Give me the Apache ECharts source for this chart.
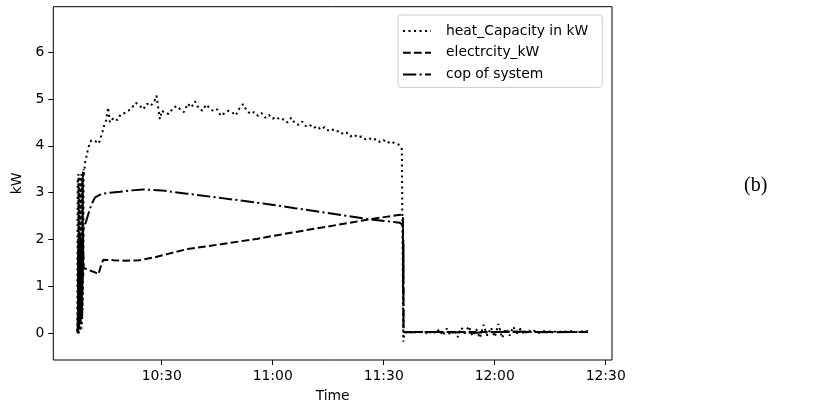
<!DOCTYPE html>
<html><head><meta charset="utf-8">
<script src="https://cdn.jsdelivr.net/npm/echarts@6/dist/echarts.min.js"></script>
<style>html,body{margin:0;padding:0;background:#fff}#c{width:830px;height:409px}</style>
</head><body><div id="c"></div><script>
// times are minutes after 10:00
const xTickMinutes = [30, 60, 90, 120, 150];
const yTicks = [0, 1, 2, 3, 4, 5, 6];
const seriesNames = ['heat_Capacity in kW', 'electrcity_kW', 'cop of system'];

const heatTimes = [7.2,7.3,7.4,7.5,7.6,7.7,7.8,7.9,8.0,8.1,8.2,8.3,8.4,8.5,8.6,8.7,8.8,8.9,9.0,9.3,9.6,10.0,10.5,11.0,11.5,12.0,12.5,13.0,13.5,14.0,14.5,15.0,15.5,16.0,
  17,18,19,20,21,22,23,24,25,26,27,28,28.6,29.5,30,31,32,33,34,35,36,37,38,39,40,41,42,43,44,45,46,47,48,49,50,51,52,53,54,55,56,57,58,59,60,
  61,62,63,64,65,66,67,68,69,70,71,72,73,74,75,76,77,78,79,80,81,82,83,84,85,86,87,88,89,90,91,92,93,94,94.9,95.3,95.6,
  96,97,98,99,100,101,102,103,104,105,106,107,108,109,110,111,112,113,114,115,116,117,118,119,120,121,122,123,124,125,126,127,128,129,130,
  131,132,133,134,135,136,137,138,139,140,141,142,143,144,145.2];
const heatValues = [0.05,3.3,0.1,3.4,0.0,3.2,0.2,3.35,0.05,3.1,0.3,3.4,0.1,3.3,0.5,3.45,1.2,3.5,3.4,3.65,3.75,3.9,4.05,4.12,4.14,4.1,4.12,4.05,4.02,4.3,4.45,4.55,4.82,4.5,
  4.6,4.55,4.68,4.7,4.75,4.82,4.92,4.86,4.78,4.9,4.85,4.95,5.07,4.57,4.75,4.7,4.68,4.8,4.85,4.78,4.72,4.9,4.82,4.95,4.8,4.75,4.88,4.8,4.74,4.78,4.64,4.7,4.75,4.72,4.65,4.8,4.89,4.75,4.68,4.72,4.64,4.7,4.6,4.66,4.58,
  4.62,4.55,4.57,4.5,4.6,4.48,4.45,4.52,4.42,4.45,4.38,4.42,4.35,4.4,4.33,4.36,4.3,4.32,4.25,4.28,4.2,4.24,4.18,4.2,4.14,4.17,4.12,4.15,4.08,4.12,4.06,4.1,4.05,4.03,3.93,-0.18,0.02,
  0.02,0.03,0.02,0.03,0.02,0.05,-0.03,0.06,0.0,0.08,-0.05,0.1,-0.04,0.07,-0.08,0.12,0.0,0.15,-0.06,0.09,-0.1,0.18,-0.05,0.12,-0.08,0.2,-0.1,0.1,-0.05,0.14,0.0,0.1,-0.03,0.08,0.02,
  0.06,0.01,0.05,0.03,0.04,0.03,0.05,0.03,0.04,0.03,0.05,0.03,0.04,0.04,0.05];

const elecTimes = [7.3,7.5,7.7,7.9,8.1,8.3,8.5,8.7,8.9,9.3,10,11,12,12.9,13.5,14.2,17,20,24,28,32,37,46,56,66,75,86,94.4,95.2,95.25,95.3,95.35,95.4,110,145.2];
const elecValues = [0.0,1.8,0.1,2.0,0.2,1.9,0.3,2.1,1.4,1.38,1.35,1.33,1.3,1.26,1.42,1.57,1.56,1.55,1.56,1.62,1.7,1.8,1.9,2.02,2.16,2.28,2.43,2.53,2.5,1.1,2.0,0.2,0.03,0.03,0.03];

const copTimes = [7.3,7.5,7.7,7.9,8.1,8.3,8.5,8.8,9.6,10.2,11.0,12.0,13.8,16,18.7,22,25,30,36.8,45.8,56.6,59.3,66,74.6,86.3,94.4,95.2,95.25,95.3,95.35,95.4,105,115,125,135,145.2];
const copValues = [0.0,2.0,0.2,2.1,0.4,2.0,0.8,2.2,2.4,2.55,2.75,2.9,2.98,3.0,3.02,3.05,3.07,3.05,2.98,2.89,2.78,2.75,2.67,2.57,2.43,2.36,2.3,0.8,1.9,0.1,0.02,0.03,0.01,0.04,0.02,0.03];

const zip = (t, v) => t.map((x, i) => [x, v[i]]);
const fmtTime = m => { const tot = 600 + Math.round(m); const h = Math.floor(tot / 60), mm = tot % 60; return h + ':' + (mm < 10 ? '0' : '') + mm; };
const FONT = 'DejaVu Sans';

const chart = echarts.init(document.getElementById('c'), null, {renderer: 'canvas'});
chart.setOption({
  animation: false,
  grid: {left: 53.3, top: 6.7, width: 558.7, height: 353.3, show: true, borderColor: '#000', borderWidth: 1, backgroundColor: 'transparent'},
  xAxis: {
    type: 'value', min: 0.7, max: 151.7,
    name: 'Time', nameLocation: 'middle', nameGap: 29,
    nameTextStyle: {fontFamily: FONT, fontSize: 13.9, color: '#000'},
    axisLine: {show: false, onZero: false},
    splitLine: {show: false},
    axisTick: {show: true, inside: false, length: 5, lineStyle: {color: '#000', width: 1}, customValues: xTickMinutes},
    axisLabel: {margin: 9, fontFamily: FONT, fontSize: 13.9, color: '#000', customValues: xTickMinutes, formatter: v => fmtTime(v)}
  },
  yAxis: {
    type: 'value', min: -0.57, max: 6.97,
    name: 'kW', nameLocation: 'middle', nameGap: 27, nameRotate: 90,
    nameTextStyle: {fontFamily: FONT, fontSize: 13.9, color: '#000'},
    axisLine: {show: false, onZero: false},
    splitLine: {show: false},
    axisTick: {show: true, inside: false, length: 5, lineStyle: {color: '#000', width: 1}, customValues: yTicks},
    axisLabel: {margin: 9, fontFamily: FONT, fontSize: 13.9, color: '#000', customValues: yTicks, formatter: v => String(v)}
  },
  legend: {
    orient: 'vertical', left: 398, top: 15,
    data: seriesNames,
    itemWidth: 28, itemHeight: 14, itemGap: 7.7,
    padding: [9, 14, 6, 4],
    itemStyle: {opacity: 0},
    backgroundColor: '#fff', borderColor: '#ccc', borderWidth: 1, borderRadius: 3,
    textStyle: {fontFamily: FONT, fontSize: 13.9, color: '#000', padding: [0, 0, 0, 10]}
  },
  series: [
    {name: seriesNames[0], type: 'line', data: zip(heatTimes, heatValues), symbol: 'none', color: '#000',
     lineStyle: {color: '#000', width: 2, type: [2.1, 3.4]}},
    {name: seriesNames[1], type: 'line', data: zip(elecTimes, elecValues), symbol: 'none', color: '#000',
     lineStyle: {color: '#000', width: 2, type: [7.7, 3.3]}},
    {name: seriesNames[2], type: 'line', data: zip(copTimes, copValues), symbol: 'none', color: '#000',
     lineStyle: {color: '#000', width: 2, type: [13.3, 3.3, 2.1, 3.3]}}
  ],
  graphic: [{type: 'text', left: 744, top: 176, style: {text: '(b)', font: '20px "Liberation Serif"', fill: '#000'}}]
});
</script></body></html>
